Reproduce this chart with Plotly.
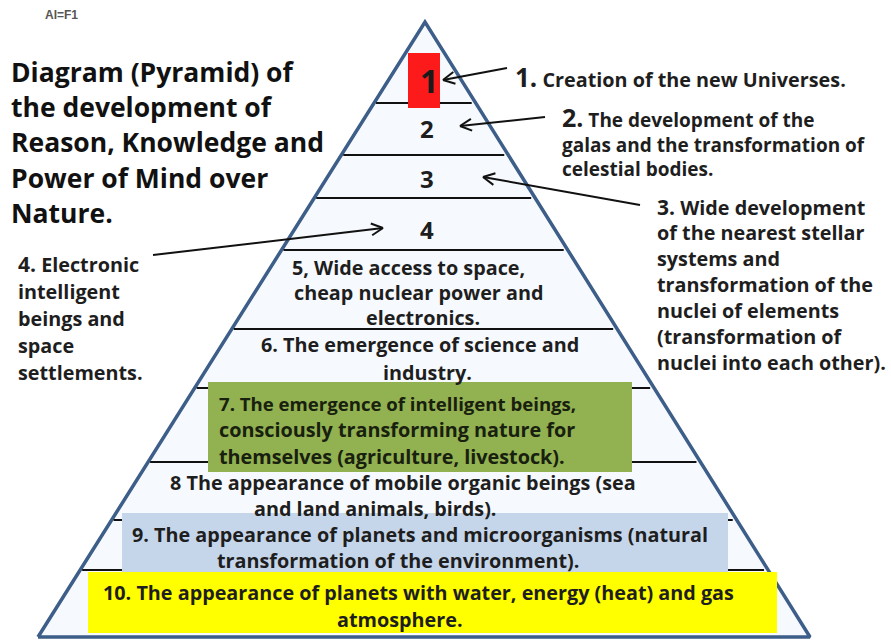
import math
import plotly.graph_objects as go

# ---------------- data ----------------
title_lines = ["Diagram (Pyramid) of", "the development of", "Reason, Knowledge and",
               "Power of Mind over", "Nature."]
level_numbers = ["1", "2", "3", "4"]
label1 = ["1.|Creation of the new Universes."]
label2 = ["2.|The development of the", "galas and the transformation of", "celestial bodies."]
label3 = ["3.|Wide development", "of the nearest stellar", "systems and",
          "transformation of the", "nuclei of elements", "(transformation of",
          "nuclei into each other)."]
label4 = ["4.|Electronic", "intelligent", "beings and", "space", "settlements."]
level5 = ["5, Wide access to space,", "cheap nuclear power and", "electronics."]
level6 = ["6. The emergence of science and", "industry."]
level7 = ["7. The emergence of intelligent beings,", "consciously transforming nature for",
          "themselves (agriculture, livestock)."]
level8 = ["8 The appearance of mobile organic beings (sea", "and land animals, birds)."]
level9 = ["9. The appearance of planets and microorganisms (natural",
          "transformation of the environment)."]
level10 = ["10. The appearance of planets with water, energy (heat) and gas", "atmosphere."]

# pyramid geometry (pixel scale)
apex = (425, 22)
base_y = 637
base_left, base_right = 38, 810
level_bounds = [103, 155, 198, 250, 329, 388, 462, 520, 570]

W, H = 891, 643
TXT = "#1e1e1e"
FONT = "Open Sans"
BODY = 19.8

fig = go.Figure()

# pyramid body
fig.add_trace(go.Scatter(
    x=[base_left, apex[0], base_right, base_left],
    y=[base_y, apex[1], base_y, base_y],
    mode="lines", fill="toself", fillcolor="#f6f9fd",
    line=dict(color="#3d5e88", width=3.5), hoverinfo="skip", showlegend=False))


def edge_x(y, side):
    t = (y - apex[1]) / (base_y - apex[1])
    if side == "l":
        return apex[0] + (base_left - apex[0]) * t
    return apex[0] + (base_right - apex[0]) * t


shapes = []
for y in level_bounds:
    shapes.append(dict(type="line", xref="x", yref="y",
                       x0=edge_x(y, "l") + 2, x1=edge_x(y, "r") - 4, y0=y, y1=y,
                       line=dict(color="#111111", width=2)))

# colored boxes
boxes = [
    (408, 440, 53, 108, "#fc1a1a"),
    (208, 632, 382, 472, "#92b150"),
    (122, 728, 513, 575, "#c6d6ea"),
    (88, 777, 572, 633, "#ffff00"),
]
for x0, x1, y0, y1, c in boxes:
    shapes.append(dict(type="rect", xref="x", yref="y", x0=x0, x1=x1, y0=y0, y1=y1,
                       fillcolor=c, line=dict(width=0)))

ann = []


def txt(x, y, s, size=BODY, anchor="left", color=TXT, family=FONT, bold=True):
    ann.append(dict(x=x, y=y, xref="x", yref="y", text=("<b>%s</b>" % s) if bold else s,
                    showarrow=False, xanchor=anchor, yanchor="middle", align=anchor if anchor != "center" else "center",
                    font=dict(size=size, color=color, family=family)))


def numbered(s, big):
    if "|" in s:
        n, rest = s.split("|")
        return '<span style="font-size:%dpx">%s</span> %s' % (big, n, rest)
    return s


# small top label
txt(43, 15, "AI=F1", size=12, color="#555555", family="Liberation Sans")

# title
for i, s in enumerate(title_lines):
    txt(9, 72 + i * 35.2, s, size=26.5, color="#111111")

# numbers inside pyramid
txt(429, 80, level_numbers[0], size=32, anchor="center", color="#1a1a1a")
for i, n in enumerate(level_numbers[1:]):
    txt(427, 128 + i * 50.5, n, size=24, anchor="center")

# right labels
txt(513, 77, numbered(label1[0], 26), size=BODY)
ann.append(dict(x=560, y=141, xref="x", yref="y", showarrow=False, xanchor="left",
                yanchor="middle", align="left",
                text="<b>" + "<br>".join(numbered(s, 25) for s in label2) + "</b>",
                font=dict(size=19, color=TXT, family=FONT)))
for i, s in enumerate(label3):
    txt(655, 207 + i * 25.9, numbered(s, 21), size=BODY)
for i, s in enumerate(label4):
    txt(16, 264 + i * 27, numbered(s, 21), size=BODY)

# pyramid level texts
for i, (s, cx) in enumerate(zip(level5, [408, 418, 423])):
    txt(cx, 267 + i * 25, s, anchor="center")
for i, (s, cx) in enumerate(zip(level6, [420, 427])):
    txt(cx, 344 + i * 28, s, anchor="center")
for i, (s, sz) in enumerate(zip(level7, [18.6, BODY, BODY])):
    txt(217, 403 + i * 26.5, s, size=sz, color="#18200f")
for i, (s, cx) in enumerate(zip(level8, [403, 375])):
    txt(cx, 482 + i * 26, s, anchor="center")
for i, (s, cx) in enumerate(zip(level9, [420, 398])):
    txt(cx, 534 + i * 26, s, anchor="center")
for i, (s, cx) in enumerate(zip(level10, [418, 400])):
    txt(cx, 592 + i * 27, s, anchor="center")

# arrows (tip, tail) with open V heads
arrows = [((443, 80), (507, 68)), ((460, 126), (545, 117)),
          ((483, 177), (640, 205)), ((383, 228), (153, 255))]
HEAD_L, HEAD_A = 13, math.radians(27)
for (tx, ty), (sx, sy) in arrows:
    shapes.append(dict(type="line", xref="x", yref="y", x0=sx, y0=sy, x1=tx, y1=ty,
                       line=dict(color="#111111", width=2)))
    ang = math.atan2(sy - ty, sx - tx)
    for s in (-1, 1):
        a = ang + s * HEAD_A
        shapes.append(dict(type="line", xref="x", yref="y", x0=tx, y0=ty,
                           x1=tx + HEAD_L * math.cos(a), y1=ty + HEAD_L * math.sin(a),
                           line=dict(color="#111111", width=2)))

fig.update_layout(
    width=W, height=H, margin=dict(l=0, r=0, t=0, b=0),
    paper_bgcolor="white", plot_bgcolor="white",
    xaxis=dict(range=[0, W], visible=False, fixedrange=True),
    yaxis=dict(range=[H, 0], visible=False, fixedrange=True),
    shapes=shapes, annotations=ann, showlegend=False,
)

fig.write_html("out.html", post_script="document.body.style.margin='0';",
               config={"displayModeBar": False})
